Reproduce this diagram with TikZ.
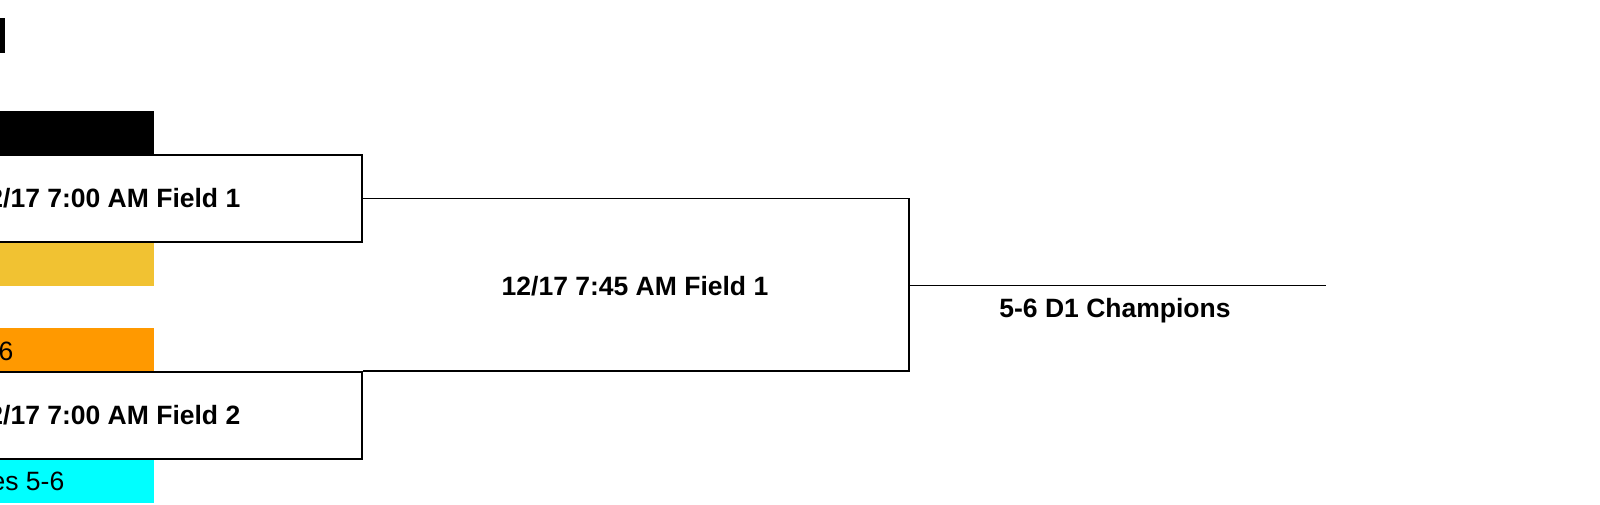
\documentclass[tikz,border=0pt]{standalone}
\usepackage{fontspec}
\setmainfont{Liberation Sans}
\definecolor{bryellow}{HTML}{F1C232}
\definecolor{brorange}{HTML}{FF9900}
\definecolor{brcyan}{HTML}{00FFFF}
\begin{document}
\begin{tikzpicture}[x=1pt,y=-1pt,
  every node/.style={font=\fontsize{26.5}{32}\selectfont},
  gamebox/.style={draw, line width=1.8pt, inner sep=0pt, minimum width=510pt, minimum height=87pt, font=\fontsize{26.5}{32}\selectfont\bfseries},
  teambar/.style={inner sep=0pt, minimum width=354pt, minimum height=44pt},
  bartext/.style={inner sep=0pt, font=\fontsize{26.5}{32}\selectfont},
  bracket/.style={line width=1.8pt},
  lbl/.style={inner sep=0pt, font=\fontsize{26.5}{32}\selectfont\bfseries}]
\useasboundingbox (0,0) rectangle (1600,505);
\clip (0,0) rectangle (1600,505);
\fill[white] (0,0) rectangle (1600,505);
% title fragment
\fill[black] (-10,18) rectangle (4.5,53);
% team bars
\node[teambar, fill=black] (t1) at (-23,133) {};
\node[teambar, fill=bryellow] (t2) at (-23,264) {};
\node[teambar, fill=brorange] (t3) at (-23,349.5) {};
\node[teambar, fill=brcyan] (t4) at (-23,480.5) {};
\node[bartext, anchor=base east] (t3txt) at (13.5,360) {6};
\node[bartext, anchor=base east] (t4txt) at (64.5,490.7) {es 5-6};
% first round games
\node[gamebox, fill=white] (g1) at (107,198.5) {12/17 7:00 AM Field 1};
\node[gamebox, fill=white] (g2) at (107,415.5) {12/17 7:00 AM Field 2};
% final bracket
\coordinate (fin) at (909,285.5);
\coordinate (champ) at (1326,285.5);
\draw[bracket] (g1.east) -| (fin) |- (g2.north east);
\draw[bracket] (fin) -- (champ);
\node[lbl] (finlbl) at (635,286) {12/17 7:45 AM Field 1};
\node[lbl, anchor=base] (champlbl) at (1115,317.3) {5-6 D1 Champions};
\end{tikzpicture}
\end{document}
